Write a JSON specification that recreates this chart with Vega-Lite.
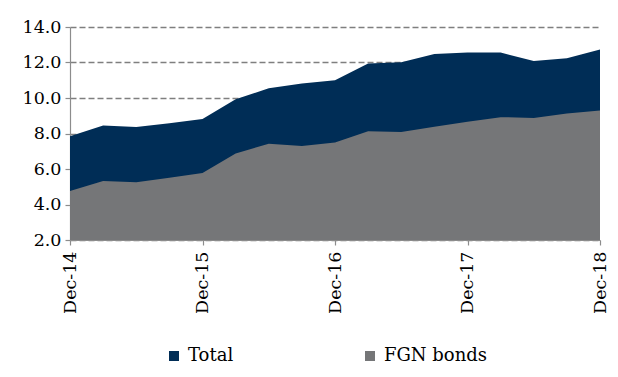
{
  "$schema": "https://vega.github.io/schema/vega-lite/v6.json",
  "width": 530,
  "height": 213,
  "autosize": {"type": "none"},
  "padding": {"left": 70, "top": 27, "right": 18, "bottom": 137},
  "background": "white",
  "config": {
    "view": {"stroke": null},
    "font": "DejaVu Serif",
    "axis": {"labelFont": "DejaVu Serif", "labelFontSize": 17.5, "labelColor": "#000000", "domainColor": "#8c8c8c", "tickColor": "#8c8c8c", "domainWidth": 1.2, "tickWidth": 1.2}
  },
  "data": {
    "values": [
      {"q": "Dec-14", "series": "Total", "value": 7.85},
      {"q": "Mar-15", "series": "Total", "value": 8.45},
      {"q": "Jun-15", "series": "Total", "value": 8.36},
      {"q": "Sep-15", "series": "Total", "value": 8.58},
      {"q": "Dec-15", "series": "Total", "value": 8.81},
      {"q": "Mar-16", "series": "Total", "value": 9.93},
      {"q": "Jun-16", "series": "Total", "value": 10.55},
      {"q": "Sep-16", "series": "Total", "value": 10.82},
      {"q": "Dec-16", "series": "Total", "value": 11.0},
      {"q": "Mar-17", "series": "Total", "value": 11.94},
      {"q": "Jun-17", "series": "Total", "value": 12.01},
      {"q": "Sep-17", "series": "Total", "value": 12.48},
      {"q": "Dec-17", "series": "Total", "value": 12.56},
      {"q": "Mar-18", "series": "Total", "value": 12.56},
      {"q": "Jun-18", "series": "Total", "value": 12.09},
      {"q": "Sep-18", "series": "Total", "value": 12.24},
      {"q": "Dec-18", "series": "Total", "value": 12.73},
      {"q": "Dec-14", "series": "FGN bonds", "value": 4.76},
      {"q": "Mar-15", "series": "FGN bonds", "value": 5.32},
      {"q": "Jun-15", "series": "FGN bonds", "value": 5.25},
      {"q": "Sep-15", "series": "FGN bonds", "value": 5.51},
      {"q": "Dec-15", "series": "FGN bonds", "value": 5.77},
      {"q": "Mar-16", "series": "FGN bonds", "value": 6.88},
      {"q": "Jun-16", "series": "FGN bonds", "value": 7.42},
      {"q": "Sep-16", "series": "FGN bonds", "value": 7.29},
      {"q": "Dec-16", "series": "FGN bonds", "value": 7.5},
      {"q": "Mar-17", "series": "FGN bonds", "value": 8.12},
      {"q": "Jun-17", "series": "FGN bonds", "value": 8.08},
      {"q": "Sep-17", "series": "FGN bonds", "value": 8.38},
      {"q": "Dec-17", "series": "FGN bonds", "value": 8.66},
      {"q": "Mar-18", "series": "FGN bonds", "value": 8.92},
      {"q": "Jun-18", "series": "FGN bonds", "value": 8.88},
      {"q": "Sep-18", "series": "FGN bonds", "value": 9.13},
      {"q": "Dec-18", "series": "FGN bonds", "value": 9.3}
    ]
  },
  "encoding": {
    "x": {
      "field": "q", "type": "ordinal", "sort": null,
      "scale": {"type": "point", "padding": 0},
      "axis": {"title": null, "values": ["Dec-14", "Dec-15", "Dec-16", "Dec-17", "Dec-18"], "labelAngle": -90, "labelAlign": "right", "labelBaseline": "middle", "tickSize": 5, "labelPadding": 6, "grid": false}
    },
    "y": {
      "field": "value", "type": "quantitative",
      "scale": {"domain": [2, 14], "zero": false, "nice": false},
      "axis": {"title": null, "values": [2, 4, 6, 8, 10, 12, 14], "format": ".1f", "tickSize": 5, "labelPadding": 4, "grid": true, "gridDash": [6, 3], "gridColor": "#7f7f7f", "gridWidth": 1.5}
    },
    "color": {
      "field": "series", "type": "nominal",
      "scale": {"domain": ["Total", "FGN bonds"], "range": ["#002D56", "#757678"]},
      "legend": {"title": null, "orient": "none", "legendX": 95, "legendY": 320, "direction": "horizontal", "columns": 2, "symbolType": "square", "symbolSize": 100, "symbolStrokeWidth": 0, "labelFont": "DejaVu Serif", "labelFontSize": 18, "labelColor": "#000000", "labelOffset": 5, "columnPadding": 127}
    }
  },
  "layer": [
    {"transform": [{"filter": "datum.series === 'Total'"}], "mark": {"type": "area", "clip": true, "opacity": 1}},
    {"transform": [{"filter": "datum.series === 'FGN bonds'"}], "mark": {"type": "area", "clip": true, "opacity": 1}}
  ]
}
